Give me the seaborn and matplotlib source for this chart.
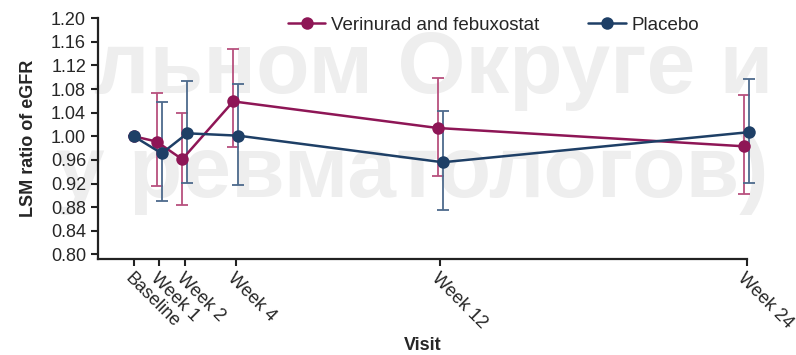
import numpy as np
import pandas as pd
import matplotlib
matplotlib.use("Agg")
import matplotlib.pyplot as plt
import seaborn as sns

# visit labels and their week positions
visits = ["Baseline", "Week 1", "Week 2", "Week 4", "Week 12", "Week 24"]
weeks = [0, 1, 2, 4, 12, 24]

# LSM ratio of eGFR with 95% CI
veri_mean = [1.000, 0.991, 0.961, 1.059, 1.014, 0.983]
veri_low = [1.000, 0.915, 0.884, 0.981, 0.932, 0.902]
veri_high = [1.000, 1.073, 1.039, 1.147, 1.098, 1.069]

plac_mean = [1.000, 0.971, 1.005, 1.001, 0.956, 1.007]
plac_low = [1.000, 0.891, 0.921, 0.917, 0.876, 0.921]
plac_high = [1.000, 1.058, 1.093, 1.088, 1.043, 1.097]

groups = ["Verinurad and febuxostat", "Placebo"]
colors = {"Verinurad and febuxostat": "#8e1656", "Placebo": "#1e3f66"}
err_colors = {"Verinurad and febuxostat": "#b8507e", "Placebo": "#4d6a8c"}
dodge = {"Verinurad and febuxostat": -0.1, "Placebo": 0.1}

rows = []
for g, m, lo, hi in [(groups[0], veri_mean, veri_low, veri_high),
                     (groups[1], plac_mean, plac_low, plac_high)]:
    for i, w in enumerate(weeks):
        off = dodge[g] if w > 0 else 0.0
        rows.append({"group": g, "week": w + off, "lsm": m[i], "lo": lo[i], "hi": hi[i]})
df = pd.DataFrame(rows)

sns.set_style("ticks")
plt.rcParams["font.family"] = ["Liberation Sans", "DejaVu Sans"]

fig = plt.figure(figsize=(7.96, 3.55), dpi=100)

# faint watermark behind the chart
fig.text(0.118, 0.738, "льном Округе и", fontsize=63, fontweight="bold",
         color="#eeeeee", va="baseline", zorder=-5)
fig.text(0.07, 0.445, "у ревматологов)", fontsize=63, fontweight="bold",
         color="#eeeeee", va="baseline", zorder=-5)

ax = fig.add_axes([0.123, 0.270, 0.815, 0.679])
ax.patch.set_alpha(0)

for g in groups:
    sub = df[df["group"] == g]
    eb = ax.errorbar(sub["week"], sub["lsm"],
                     yerr=[sub["lsm"] - sub["lo"], sub["hi"] - sub["lsm"]],
                     fmt="none", ecolor=err_colors[g], elinewidth=1.3,
                     capsize=4, capthick=1.3, zorder=2)
    for art in eb.lines[1] + eb.lines[2]:
        art.set_clip_on(False)

sns.lineplot(data=df, x="week", y="lsm", hue="group", hue_order=groups,
             palette=colors, marker="o", markersize=9, markeredgewidth=0,
             linewidth=1.8, ax=ax, zorder=3)
for ln in ax.lines:
    ln.set_clip_on(False)

ax.set_xlim(-1.4, 24)
ax.set_ylim(0.792, 1.20)
yt = np.arange(0.80, 1.201, 0.04)
ax.set_yticks(yt)
ax.set_yticklabels([f"{v:.2f}" for v in yt], fontsize=13)
ax.set_xticks(weeks)
ax.set_xticklabels(visits, rotation=-45, ha="left", va="top",
                   rotation_mode="anchor", fontsize=13)
ax.tick_params(axis="both", direction="out", length=5, width=1.5, color="#222222")
ax.tick_params(axis="x", pad=3)

sns.despine(ax=ax)
for s in ["left", "bottom"]:
    ax.spines[s].set_linewidth(1.6)
    ax.spines[s].set_color("#222222")

ax.set_ylabel("LSM ratio of eGFR", fontsize=13, fontweight="bold", labelpad=10)
ax.set_xlabel("Visit", fontsize=13, fontweight="bold")
ax.xaxis.set_label_coords(0.5, -0.325)

ax.legend(loc="center left", bbox_to_anchor=(0.293, 0.971), ncol=2, frameon=False,
          fontsize=13.5, columnspacing=2.6, handlelength=2.0, handletextpad=0.3,
          borderpad=0, borderaxespad=0)

fig.savefig("out.png", dpi=100)
